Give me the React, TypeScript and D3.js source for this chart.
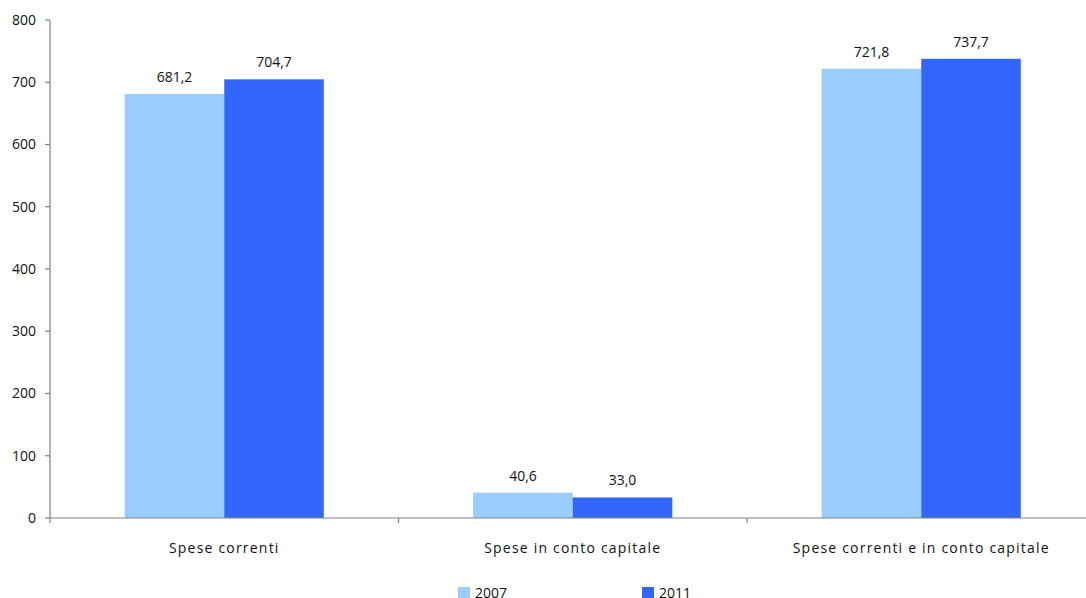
import React from "react";
import * as d3 from "d3";

const categories = ["Spese correnti", "Spese in conto capitale", "Spese correnti e in conto capitale"];
const years = ["2007", "2011"];
const values2007 = [681.2, 40.6, 721.8];
const values2011 = [704.7, 33.0, 737.7];
const yTicks = [0, 100, 200, 300, 400, 500, 600, 700, 800];
const colors = ["#99CCFF", "#3366FF"];

const W = 1086;
const H = 598;
const left = 50;
const right = 1095.5;
const top = 20;
const bottom = 518;
const font = "'Open Sans', 'Liberation Sans', sans-serif";

export default function App() {
  const x = d3.scaleBand<string>().domain(categories).range([left, right]).paddingInner(0).paddingOuter(0);
  const step = x.bandwidth();
  const barW = step * 0.2857;
  const y = d3.scaleLinear().domain([0, 800]).range([bottom, top]);
  const series = [values2007, values2011];
  const fmt = (v: number) => v.toFixed(1).replace(".", ",");

  return (
    <svg width={W} height={H} style={{ position: "absolute", left: 0, top: 0, background: "#fff" }} fontFamily={font}>
      {categories.map((c, i) => {
        const center = (x(c) as number) + step / 2;
        return series.map((s, k) => {
          const bx = center - barW + k * barW;
          return (
            <g key={c + k}>
              <rect x={bx} y={y(s[i])} width={barW} height={bottom - y(s[i])} fill={colors[k]} />
              <text x={bx + barW / 2} y={y(s[i]) - 12} textAnchor="middle" fontSize={14} fill="#111">
                {fmt(s[i])}
              </text>
            </g>
          );
        });
      })}
      {/* y axis */}
      <line x1={left} x2={left} y1={top} y2={bottom} stroke="#808080" strokeWidth={1.2} />
      {yTicks.map((t) => (
        <g key={t}>
          <line x1={left - 5} x2={left} y1={y(t)} y2={y(t)} stroke="#808080" strokeWidth={1.2} />
          <text x={36} y={y(t)} dy="0.35em" textAnchor="end" fontSize={14} fill="#111">
            {t}
          </text>
        </g>
      ))}
      {/* x axis */}
      <line x1={left} x2={right} y1={bottom} y2={bottom} stroke="#808080" strokeWidth={1.2} />
      {categories.map((c) => (
        <g key={c}>
          <line x1={x(c) as number} x2={x(c) as number} y1={bottom} y2={bottom + 5} stroke="#808080" strokeWidth={1.2} />
          <text x={(x(c) as number) + step / 2} y={553} textAnchor="middle" fontSize={14} letterSpacing={1.2} fill="#111">
            {c}
          </text>
        </g>
      ))}
      {/* legend */}
      {years.map((yr, k) => {
        const lx = [458, 642][k];
        return (
          <g key={yr}>
            <rect x={lx} y={587} width={12} height={12} fill={colors[k]} />
            <text x={lx + 17} y={598} fontSize={14} fill="#111">
              {yr}
            </text>
          </g>
        );
      })}
    </svg>
  );
}
